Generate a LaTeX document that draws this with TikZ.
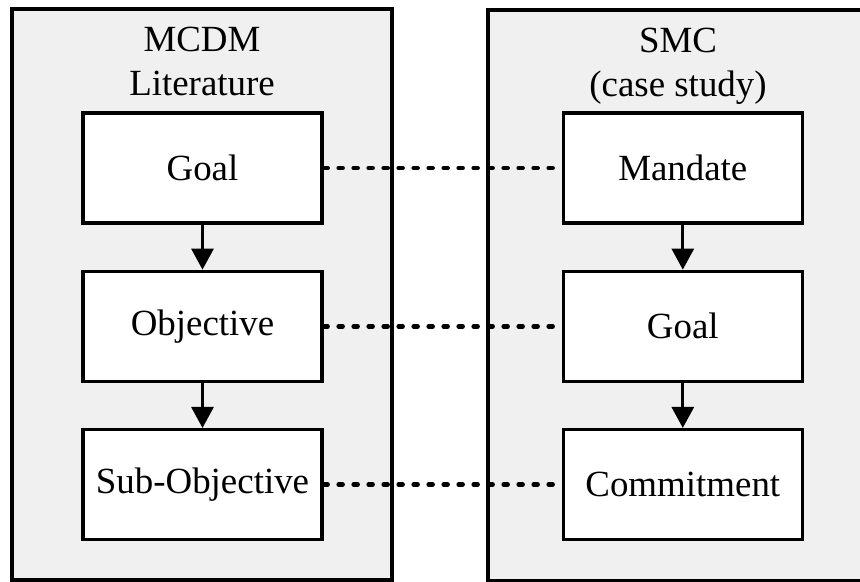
\documentclass[tikz,border=0pt]{standalone}
\usepackage{fontspec}
\setmainfont{Liberation Serif}
\usepackage{tikz}
\usetikzlibrary{arrows.meta,positioning}

\definecolor{panelgray}{HTML}{F0F0F0}

\begin{document}
\begin{tikzpicture}[
    node distance=0.9cm and 4.76cm,
    font=\fontsize{21}{25.5}\selectfont,
    panel/.style={draw, line width=0.066cm, fill=panelgray, minimum width=7.6cm, minimum height=11.42cm, inner sep=0pt},
    box/.style={draw, line width=0.066cm, fill=white, minimum width=4.78cm, minimum height=2.2cm, align=center, inner sep=0pt},
    head/.style={align=center, inner sep=0pt},
    link/.style={line width=0.09cm, line cap=round, dash pattern=on 0.08cm off 0.22cm}
]
    \useasboundingbox (0,0) rectangle (17.2,-11.64);
    \clip (0,0) rectangle (17.2,-11.64);

    \node[panel] (mcdm) at (4.04,-5.89) {};
    \node[panel] (smc) at (13.56,-5.91) {};
    \node[head, below=0.38cm of mcdm.north] (mcdmtitle) {MCDM\\Literature};
    \node[head, below=0.38cm of smc.north] (smctitle) {SMC\\(case study)};

    \node[box] (goal) at (4.05,-3.36) {Goal};
    \node[box, below=of goal] (obj) {Objective};
    \node[box, below=of obj] (subobj) {Sub-Objective};
    \node[box, right=of goal] (mandate) {Mandate};
    \node[box, right=of obj] (smcgoal) {Goal};
    \node[box, right=of subobj] (commit) {Commitment};

    \draw[-{Triangle[width=0.44cm,length=0.42cm]}, line width=0.06cm] (goal) -- (obj);
    \draw[-{Triangle[width=0.44cm,length=0.42cm]}, line width=0.06cm] (obj) -- (subobj);
    \draw[-{Triangle[width=0.44cm,length=0.42cm]}, line width=0.06cm] (mandate) -- (smcgoal);
    \draw[-{Triangle[width=0.44cm,length=0.42cm]}, line width=0.06cm] (smcgoal) -- (commit);

    \draw[link] (goal) -- (mandate);
    \draw[link] (obj) -- (smcgoal);
    \draw[link] (subobj) -- (commit);
\end{tikzpicture}
\end{document}
